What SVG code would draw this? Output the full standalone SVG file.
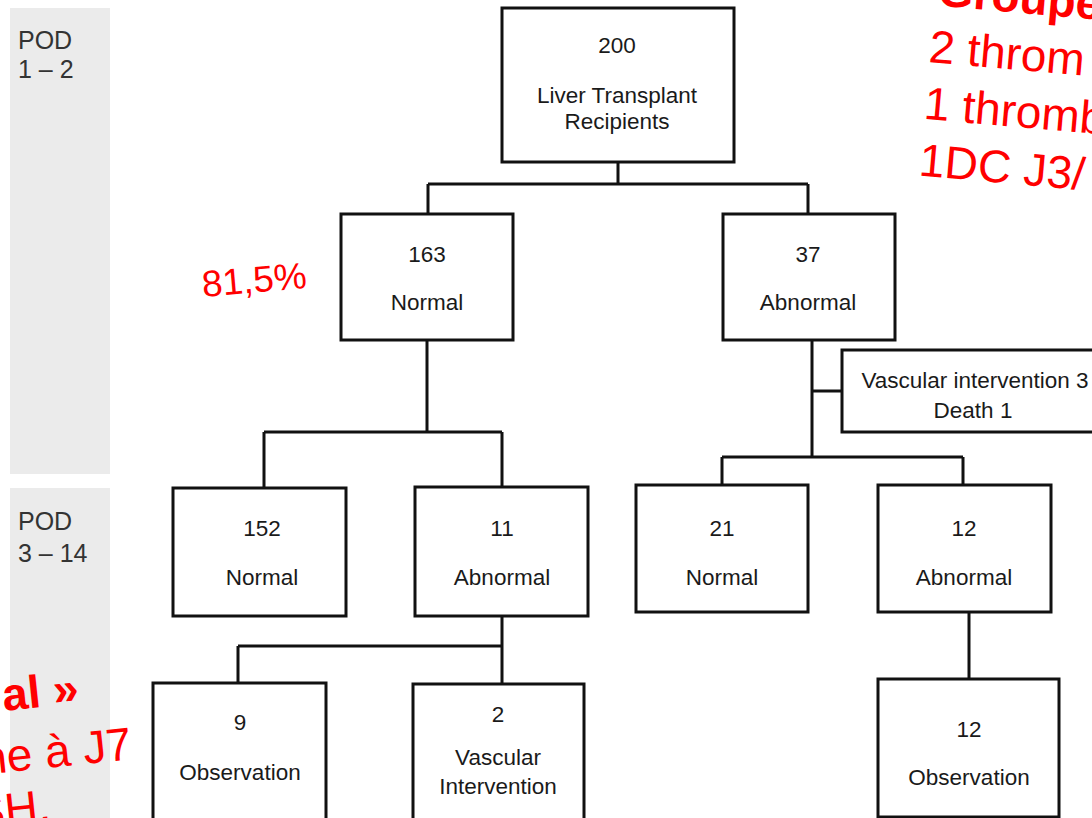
<svg xmlns="http://www.w3.org/2000/svg" width="1092" height="818" viewBox="0 0 1092 818">
<style>
.box{fill:#fff;stroke:#111;stroke-width:3}
.t{font-family:"Liberation Sans",Arial,sans-serif;font-size:22.5px;fill:#1a1a1a;text-anchor:middle}
.pod{font-family:"Liberation Sans",Arial,sans-serif;font-size:25px;fill:#333}
.red{font-family:"Liberation Sans",Arial,sans-serif;font-size:46px;fill:#ff0000}
.redb{font-family:"Liberation Sans",Arial,sans-serif;font-size:46px;fill:#ff0000;font-weight:bold}
.strip{fill:#ebebeb}
.conn{stroke:#111;stroke-width:3;fill:none}
</style>
<rect width="1092" height="818" fill="#fff"/>
<g id="pod-strips">
<rect class="strip" x="10" y="8" width="100" height="466"/>
<text class="pod" x="18" y="49">POD</text>
<text class="pod" x="18" y="78">1 – 2</text>
<rect class="strip" x="10" y="488" width="100" height="330"/>
<text class="pod" x="18" y="530">POD</text>
<text class="pod" x="18" y="562">3 – 14</text>
</g>
<g id="connectors">
<path class="conn" d="M618 162V184M428 184H808M428 184V214M808 184V214"/>
<path class="conn" d="M427 340V432M264 432H502M264 432V488M502 432V488"/>
<path class="conn" d="M812 340V457M812 391H842M722 457H963M722 457V485M963 457V485"/>
<path class="conn" d="M502 616V646M238 646H502M238 646V683M502 646V684"/>
<path class="conn" d="M969 612V679"/>
</g>
<g id="n-root"><rect class="box" x="502" y="8" width="232" height="154"/>
<text class="t" x="617" y="53">200</text><text class="t" x="617" y="103">Liver Transplant</text><text class="t" x="617" y="129">Recipients</text></g>
<g id="n-163"><rect class="box" x="341" y="214" width="172" height="126"/>
<text class="t" x="427" y="262">163</text><text class="t" x="427" y="310">Normal</text></g>
<g id="n-37"><rect class="box" x="723" y="214" width="172" height="126"/>
<text class="t" x="808" y="262">37</text><text class="t" x="808" y="310">Abnormal</text></g>
<g id="n-side"><rect class="box" x="842" y="350" width="270" height="82"/>
<text class="t" x="975" y="388">Vascular intervention 3</text><text class="t" x="973" y="418">Death 1</text></g>
<g id="n-152"><rect class="box" x="173" y="488" width="173" height="128"/>
<text class="t" x="262" y="536">152</text><text class="t" x="262" y="585">Normal</text></g>
<g id="n-11"><rect class="box" x="415" y="487" width="173" height="129"/>
<text class="t" x="502" y="536">11</text><text class="t" x="502" y="585">Abnormal</text></g>
<g id="n-21"><rect class="box" x="636" y="485" width="172" height="127"/>
<text class="t" x="722" y="536">21</text><text class="t" x="722" y="585">Normal</text></g>
<g id="n-12a"><rect class="box" x="878" y="485" width="173" height="127"/>
<text class="t" x="964" y="536">12</text><text class="t" x="964" y="585">Abnormal</text></g>
<g id="n-9"><rect class="box" x="153" y="683" width="173" height="150"/>
<text class="t" x="240" y="730">9</text><text class="t" x="240" y="780">Observation</text></g>
<g id="n-2"><rect class="box" x="413" y="684" width="171" height="150"/>
<text class="t" x="498" y="722">2</text><text class="t" x="498" y="765">Vascular</text><text class="t" x="498" y="794">Intervention</text></g>
<g id="n-12o"><rect class="box" x="878" y="679" width="181" height="138"/>
<text class="t" x="969" y="737">12</text><text class="t" x="969" y="785">Observation</text></g>
<g id="annotations">
<text class="red" style="font-size:37px" transform="translate(203,297) rotate(-5)">81,5%</text>
<g transform="translate(928,62) rotate(5)">
<text class="redb" x="4" y="-57">Groupe</text>
<text class="red" x="0" y="0">2 throm</text>
<text class="red" x="0" y="57">1 thromb</text>
<text class="red" x="0" y="114">1DC J3/</text>
</g>
<text class="redb" text-anchor="end" transform="translate(80,703) rotate(-6)">al »</text>
<text class="red" text-anchor="end" transform="translate(133,759) rotate(-6)">ne à J7</text>
<text class="red" text-anchor="end" transform="translate(52,821) rotate(-6)">SH.</text>
</g>
</svg>
